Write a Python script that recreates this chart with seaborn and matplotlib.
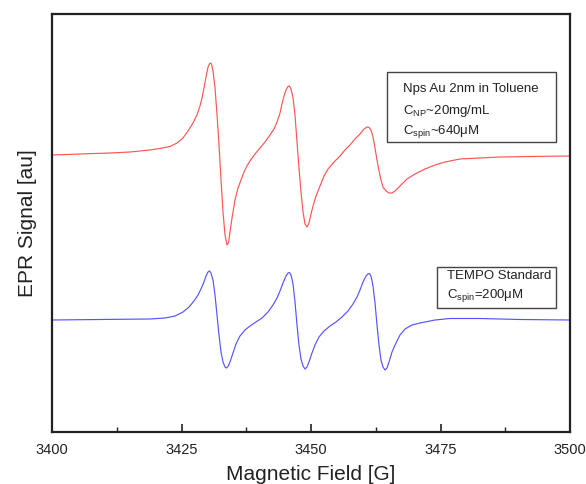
import numpy as np
import pandas as pd
import matplotlib
matplotlib.use("Agg")
import matplotlib.pyplot as plt
from matplotlib.ticker import MultipleLocator
from matplotlib.patches import Rectangle
import seaborn as sns

# (field in G, signal in arbitrary units)
red_field = [3400.00, 3405.41, 3411.20, 3415.06, 3418.92, 3420.85, 3422.78, 3424.13, 3425.29, 3426.25,
             3427.22, 3427.99, 3428.57, 3428.96, 3429.34, 3429.73, 3430.12, 3430.50, 3430.79, 3431.08,
             3431.47, 3431.85, 3432.24, 3432.63, 3433.01, 3433.40, 3433.78, 3434.07, 3434.36, 3434.75,
             3435.33, 3435.91, 3436.49, 3437.07, 3437.64, 3438.22, 3439.19, 3440.15, 3441.12, 3442.08,
             3442.86, 3443.44, 3444.02, 3444.40, 3444.79, 3445.17, 3445.56, 3445.85, 3446.14, 3446.53,
             3446.91, 3447.30, 3447.68, 3448.07, 3448.46, 3448.84, 3449.23, 3449.61, 3450.00, 3450.39,
             3450.97, 3451.74, 3452.51, 3453.28, 3454.44, 3455.60, 3456.56, 3457.53, 3458.49, 3459.46,
             3460.23, 3460.81, 3461.20, 3461.58, 3461.97, 3462.36, 3462.74, 3463.13, 3463.51, 3463.90,
             3464.48, 3465.06, 3465.64, 3466.22, 3467.18, 3468.53, 3470.08, 3472.01, 3473.94, 3475.87,
             3478.76, 3482.63, 3486.49, 3492.28, 3500.00]
red_signal = [277, 278, 279, 280, 282, 283.5, 285.5, 289, 294, 301,
              309, 317, 326, 334, 344, 355, 365, 369, 368, 361,
              344, 318, 287, 252, 220, 197, 187, 189, 200, 214,
              232, 244, 252, 260, 266, 271, 278, 284, 290, 297,
              303, 310, 319, 328, 336, 342, 345.5, 346, 343, 334,
              317, 290, 264, 240, 220, 208, 205, 209, 218, 226,
              236, 246, 256, 263, 270, 276, 282, 287, 293, 298,
              303, 305, 304.5, 302, 295, 284, 272, 261, 252, 245,
              241, 239, 239, 241, 246, 253, 258, 263, 267, 270,
              273, 274, 275, 275.5, 276]

blue_field = [3400.00, 3409.27, 3418.92, 3421.81, 3423.75, 3425.29, 3426.45, 3427.41, 3428.19, 3428.76,
              3429.34, 3429.73, 3430.12, 3430.41, 3430.69, 3431.08, 3431.47, 3431.85, 3432.24, 3432.63,
              3433.01, 3433.40, 3433.69, 3433.98, 3434.36, 3434.94, 3435.52, 3436.29, 3437.26, 3438.22,
              3439.38, 3440.54, 3441.70, 3442.66, 3443.44, 3444.02, 3444.59, 3445.17, 3445.56, 3445.85,
              3446.14, 3446.53, 3446.91, 3447.30, 3447.68, 3448.07, 3448.46, 3448.84, 3449.23, 3449.61,
              3450.19, 3450.77, 3451.54, 3452.51, 3453.67, 3454.83, 3455.98, 3457.14, 3458.11, 3458.88,
              3459.46, 3460.04, 3460.62, 3461.00, 3461.29, 3461.58, 3461.97, 3462.36, 3462.74, 3463.13,
              3463.51, 3463.90, 3464.29, 3464.67, 3465.06, 3465.64, 3466.41, 3467.18, 3468.15, 3469.50,
              3471.04, 3473.94, 3476.83, 3482.63, 3490.35, 3500.00]
blue_signal = [112, 112.5, 113, 114, 116, 120, 125, 131, 137, 143,
               150, 156, 160, 161, 159, 152, 137, 117, 97, 80,
               70, 65, 64, 65.5, 70, 79, 88, 96, 102, 106,
               110, 114, 120, 127, 134, 141, 149, 156, 159, 159.5,
               157, 148, 130, 107, 87, 73, 66, 63, 65, 70,
               79, 87, 95, 101, 106, 110, 115, 121, 128, 135,
               142, 150, 156, 158, 158.5, 156, 146, 129, 107, 87,
               72, 65, 62, 64, 70, 80, 89, 97, 103, 107,
               109, 112, 113.5, 113.5, 112.5, 112]

sample_lines = ["Nps Au 2nm in Toluene",
                r"C$_{\mathregular{NP}}$~20mg/mL",
                r"C$_{\mathregular{spin}}$~640$\mathregular{\mu}$M"]
std_lines = ["TEMPO Standard",
             r"C$_{\mathregular{spin}}$=200$\mathregular{\mu}$M"]
x_ticks = [3400, 3425, 3450, 3475, 3500]

sns.set_style("white")
plt.rcParams["font.family"] = ["Liberation Sans", "DejaVu Sans"]
plt.rcParams["mathtext.fontset"] = "custom"
plt.rcParams["mathtext.rm"] = "Liberation Sans"
plt.rcParams["mathtext.it"] = "Liberation Sans"
plt.rcParams["mathtext.default"] = "regular"

df_red = pd.DataFrame({"field": red_field, "signal": red_signal})
df_blue = pd.DataFrame({"field": blue_field, "signal": blue_signal})

fig = plt.figure(figsize=(5.86, 4.84), dpi=100)
ax = fig.add_axes([52/586, 52/484, (570-52)/586, (432-14)/484])

sns.lineplot(data=df_red, x="field", y="signal", ax=ax, color="#ff5555", lw=0.85, sort=False)
sns.lineplot(data=df_blue, x="field", y="signal", ax=ax, color="#5555ff", lw=0.85, sort=False)

ax.set_xlim(3400, 3500)
ax.set_ylim(0, 418)
ax.set_xticks(x_ticks)
ax.set_xticklabels([str(t) for t in x_ticks], fontsize=10.5, color="#222222")
ax.xaxis.set_minor_locator(MultipleLocator(12.5))
ax.tick_params(axis="x", which="major", direction="in", length=6, width=1.2, color="#222222",
               bottom=True, top=False, pad=8)
ax.tick_params(axis="x", which="minor", direction="in", length=3.5, width=1.0, color="#222222",
               bottom=True, top=False)
ax.set_yticks([])
for s in ax.spines.values():
    s.set_linewidth(1.6)
    s.set_color("#222222")

ax.set_xlabel("Magnetic Field [G]", fontsize=15, color="#222222", labelpad=6)
ax.set_ylabel("EPR Signal [au]", fontsize=15, color="#222222", labelpad=11)

def fx(px):
    return px / 586

def fy(py):
    return 1 - py / 484

box1 = Rectangle((fx(387), fy(142)), fx(556) - fx(387), fy(72) - fy(142), transform=fig.transFigure,
                 fill=False, edgecolor="#444444", lw=1.0)
fig.patches.append(box1)
for txt, py in zip(sample_lines, [89, 111, 132]):
    fig.text(fx(403), fy(py), txt, fontsize=9.5, color="#222222", va="center", ha="left")

box2 = Rectangle((fx(437), fy(308)), fx(556) - fx(437), fy(267) - fy(308), transform=fig.transFigure,
                 fill=False, edgecolor="#444444", lw=1.0)
fig.patches.append(box2)
for txt, py in zip(std_lines, [276, 295]):
    fig.text(fx(447), fy(py), txt, fontsize=9.5, color="#222222", va="center", ha="left")

fig.savefig("out.png", dpi=100)
